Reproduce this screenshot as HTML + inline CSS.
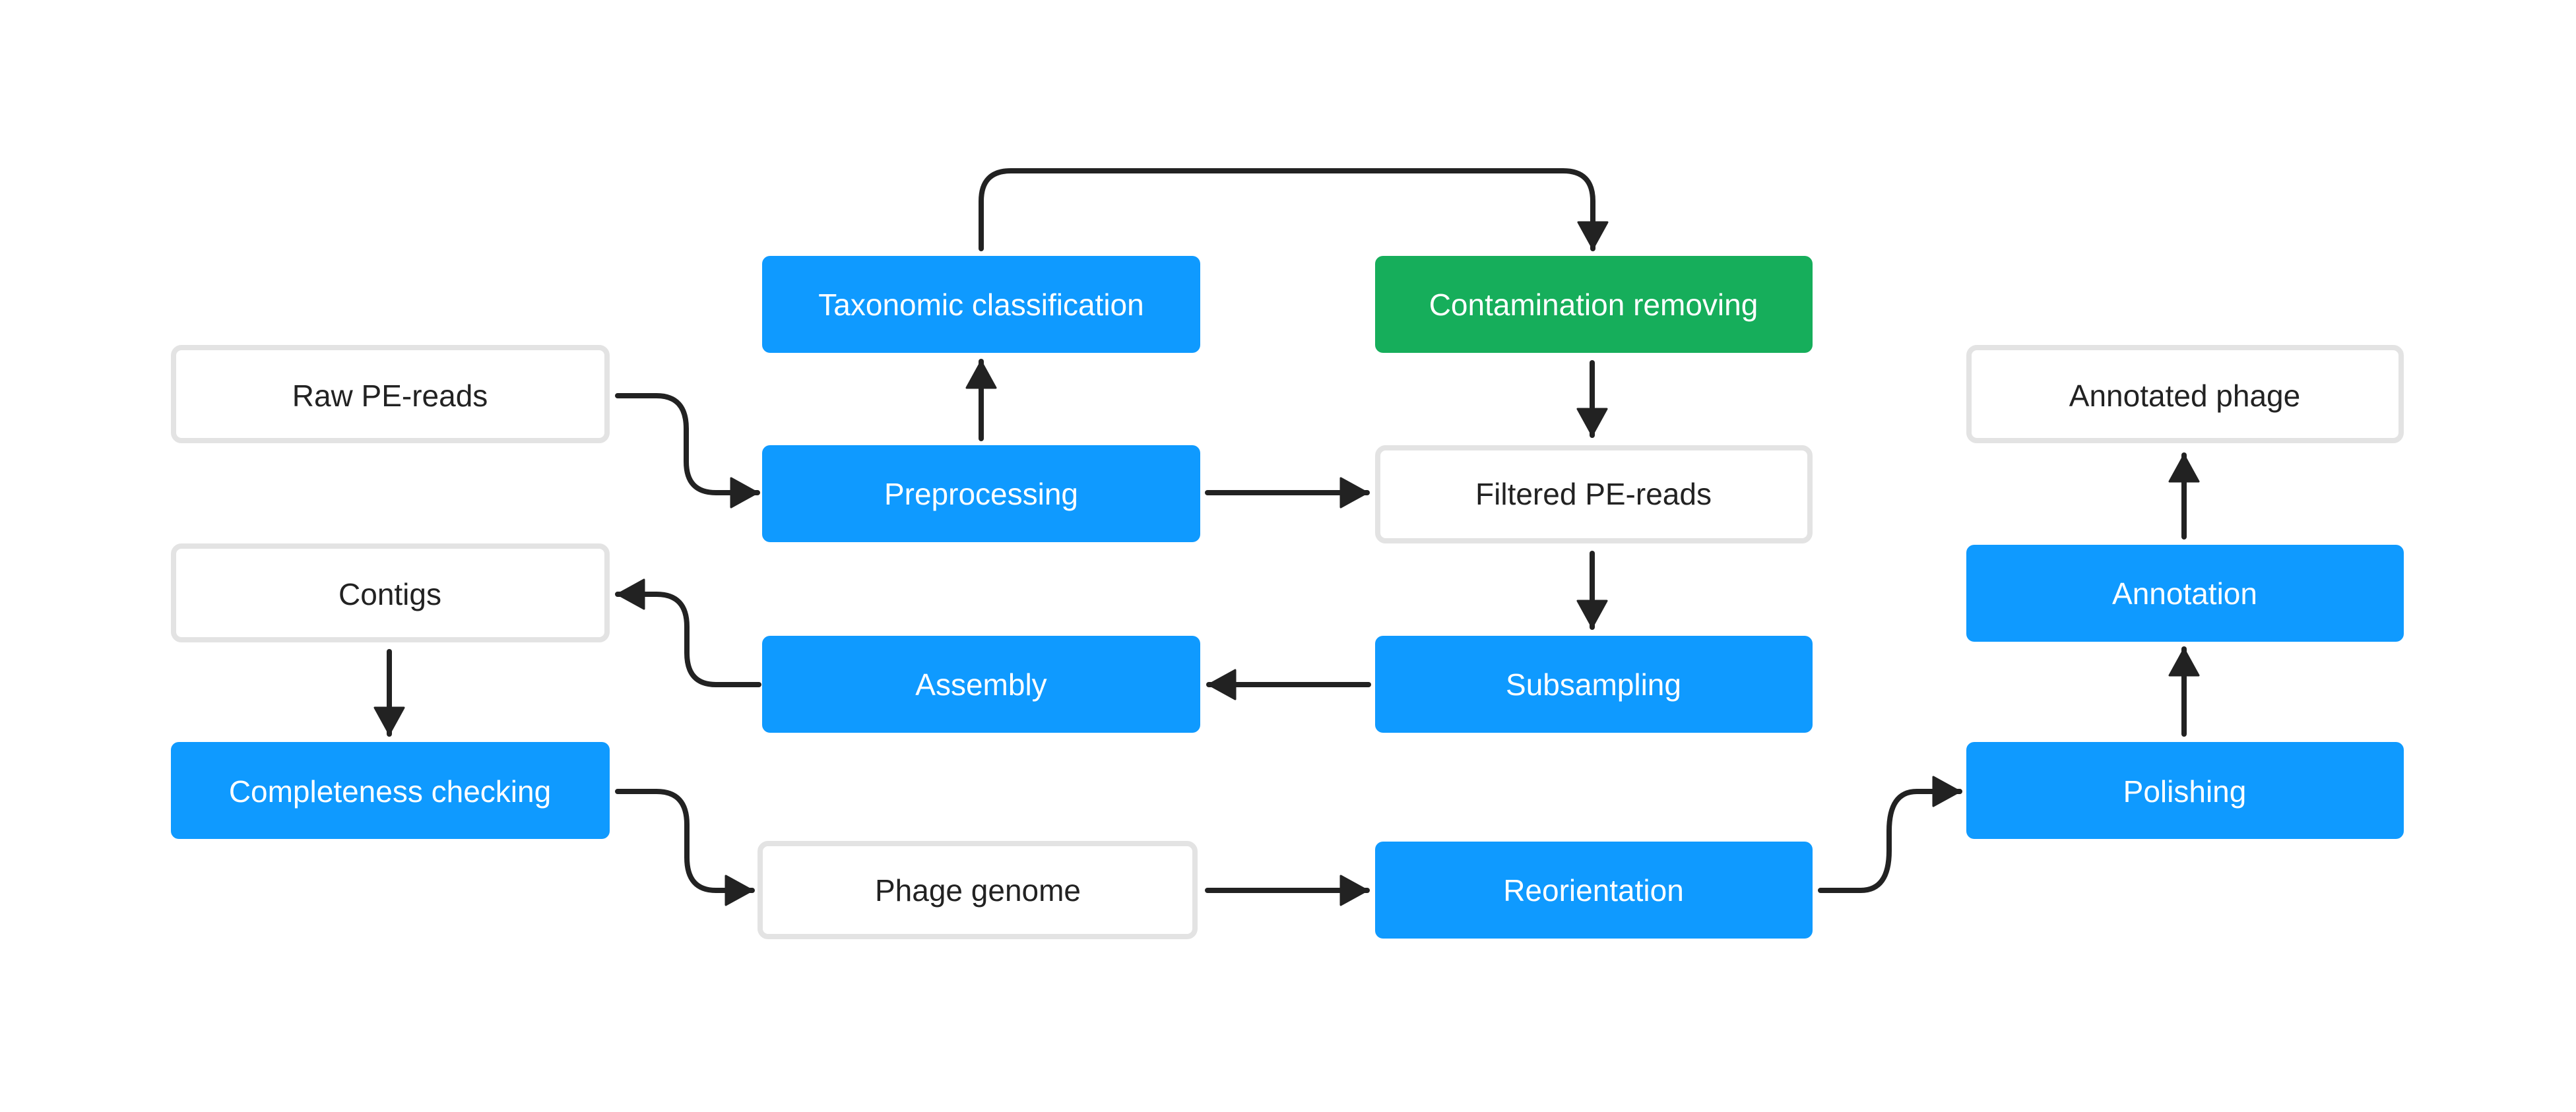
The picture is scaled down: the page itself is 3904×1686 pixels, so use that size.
<!DOCTYPE html>
<html><head><meta charset="utf-8"><style>
html,body{margin:0;padding:0;background:#fff;}
svg{display:block}
text{font-family:"Liberation Sans",sans-serif;font-size:46px;text-anchor:middle;dominant-baseline:central}
</style></head><body>
<svg width="3904" height="1686" viewBox="0 0 3904 1686" xmlns="http://www.w3.org/2000/svg">
<defs>
<marker id="a" markerUnits="userSpaceOnUse" markerWidth="50" markerHeight="50" refX="42" refY="24" orient="auto">
<path d="M2,2 L42,24 L2,46 Z" fill="#222" stroke="#222" stroke-width="3" stroke-linejoin="round"/>
</marker>
</defs>
<rect width="3904" height="1686" fill="#fff"/>
<g stroke="#222" stroke-width="8" fill="none" stroke-linecap="round" stroke-linejoin="round" marker-end="url(#a)">
<path d="M936,600 H995 Q1040,600 1040,650 V700 Q1040,747 1085,747 H1148"/>
<path d="M1487,665 V548"/>
<path d="M1487,377 V305 Q1487,259 1532,259 H2369 Q2414,259 2414,305 V377"/>
<path d="M1830,747 H2072"/>
<path d="M2413,550 V660"/>
<path d="M2413,839 V951"/>
<path d="M2074,1038 H1832"/>
<path d="M1150,1038 H1085 Q1041,1038 1041,990 V950 Q1041,901 995,901 H936"/>
<path d="M590,988 V1113"/>
<path d="M936,1200 H995 Q1041,1200 1041,1250 V1300 Q1041,1350 1085,1350 H1140"/>
<path d="M1830,1350 H2072"/>
<path d="M2759,1350 H2820 Q2863,1350 2863,1290 V1260 Q2863,1200 2905,1200 H2970"/>
<path d="M3310,1113 V984"/>
<path d="M3310,814 V690"/>
</g>
<g>
<rect x="263" y="527" width="657" height="141" rx="12" fill="#fff" stroke="#e3e3e3" stroke-width="8"/>
<text x="591" y="600" fill="#222">Raw PE-reads</text>
<rect x="263" y="828" width="657" height="142" rx="12" fill="#fff" stroke="#e3e3e3" stroke-width="8"/>
<text x="591" y="901" fill="#222">Contigs</text>
<rect x="259" y="1125" width="665" height="147" rx="12" fill="#0f9aff"/>
<text x="591" y="1200" fill="#fff">Completeness checking</text>

<rect x="1155" y="388" width="664" height="147" rx="12" fill="#0f9aff"/>
<text x="1487" y="462" fill="#fff">Taxonomic classification</text>
<rect x="1155" y="675" width="664" height="147" rx="12" fill="#0f9aff"/>
<text x="1487" y="749" fill="#fff">Preprocessing</text>
<rect x="1155" y="964" width="664" height="147" rx="12" fill="#0f9aff"/>
<text x="1487" y="1038" fill="#fff">Assembly</text>
<rect x="1152" y="1279" width="659" height="141" rx="12" fill="#fff" stroke="#e3e3e3" stroke-width="8"/>
<text x="1482" y="1350" fill="#222">Phage genome</text>

<rect x="2084" y="388" width="663" height="147" rx="12" fill="#16ae5b"/>
<text x="2415" y="462" fill="#fff">Contamination removing</text>
<rect x="2088" y="679" width="655" height="141" rx="12" fill="#fff" stroke="#e3e3e3" stroke-width="8"/>
<text x="2415" y="749" fill="#222">Filtered PE-reads</text>
<rect x="2084" y="964" width="663" height="147" rx="12" fill="#0f9aff"/>
<text x="2415" y="1038" fill="#fff">Subsampling</text>
<rect x="2084" y="1276" width="663" height="147" rx="12" fill="#0f9aff"/>
<text x="2415" y="1350" fill="#fff">Reorientation</text>

<rect x="2984" y="527" width="655" height="141" rx="12" fill="#fff" stroke="#e3e3e3" stroke-width="8"/>
<text x="3311" y="600" fill="#222">Annotated phage</text>
<rect x="2980" y="826" width="663" height="147" rx="12" fill="#0f9aff"/>
<text x="3311" y="900" fill="#fff">Annotation</text>
<rect x="2980" y="1125" width="663" height="147" rx="12" fill="#0f9aff"/>
<text x="3311" y="1200" fill="#fff">Polishing</text>
</g>
</svg>
</body></html>
